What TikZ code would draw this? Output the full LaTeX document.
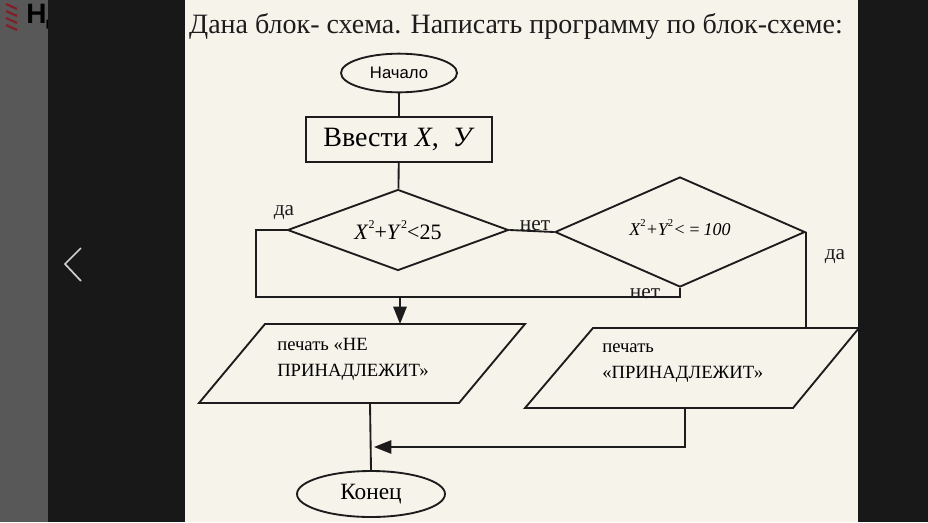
\documentclass[tikz,border=0pt]{standalone}
\usepackage{fontspec}
\setmainfont{Liberation Serif}
\newfontfamily\arialf{Liberation Sans}
\usetikzlibrary{arrows.meta,shapes.geometric}
\definecolor{paper}{RGB}{246,243,234}
\definecolor{band}{RGB}{24,24,24}
\definecolor{panel}{RGB}{88,88,88}
\definecolor{ink}{RGB}{28,28,28}
\definecolor{chev}{RGB}{205,205,205}
\definecolor{logored}{RGB}{130,30,40}
\newcommand\mysq[1]{\raisebox{0.5em}{\upshape\fontsize{#1}{#1}\selectfont 2}}
\begin{document}
\begin{tikzpicture}[x=0.75pt,y=-0.75pt,
  line/.style={draw=ink,line width=1.4pt},
  arr/.style={line,-{Triangle[length=13pt,width=10pt]}},
  lbl/.style={font=\fontsize{16}{18}\selectfont,text=ink,inner sep=0pt},
  para/.style={line,line join=miter}]
\useasboundingbox (0,0) rectangle (928,522);
% background
\fill[panel] (0,0) rectangle (48,522);
\node[anchor=west,font=\arialf\bfseries\fontsize{21}{24}\selectfont,text=black,inner sep=0pt] (logo) at (26,17) {НД};
\foreach \yy in {4,11,18,25}{\draw[logored,line width=1.6pt] (6,\yy) -- (17,\yy+5);}
\fill[band] (48,0) rectangle (185,522);
\fill[paper] (185,0) rectangle (858,522);
\fill[band] (858,0) rectangle (928,522);
\draw[chev,line width=1.3pt] (81,248) -- (65,264) -- (81,281);

% title
\node[font=\fontsize{21}{25}\selectfont,text=ink,inner sep=0pt] (title) at (516,26) {Дана блок- схема. Написать программу по блок-схеме:};

% start / input
\node[ellipse,line,minimum width=87pt,minimum height=29pt,inner sep=0pt,
      font=\arialf\fontsize{12.5}{14}\selectfont] (start) at (399,73) {\raisebox{-0.3em}{Начало}};
\node[line,rectangle,minimum width=139.5pt,minimum height=33.75pt,inner sep=0pt,
      font=\fontsize{21}{24}\selectfont] (input) at (399,139.5) {Ввести \textit{X}, \ \textit{У}};

% decisions
\node[diamond,line,aspect=2.73,minimum width=165.75pt,minimum height=60.75pt,inner sep=0pt,
      font=\fontsize{16.5}{18}\selectfont] (d1) at (398,230) {\textit{X}\mysq{9}+\textit{Y}\mysq{9}<25};
\node[diamond,line,aspect=2.27,minimum width=187.5pt,minimum height=82.5pt,inner sep=0pt,
      font=\itshape\fontsize{13.5}{16}\selectfont] (d2) at (680,232) {\raisebox{7pt}{X\mysq{8}+Y\mysq{8}<\,=\,100}};

% outputs
\draw[para] (265,324) -- (525,324) -- (459,403) -- (199,403) -- cycle;
\node[anchor=west,align=left,inner sep=0pt,font=\fontsize{14}{19.5}\selectfont] (p1) at (277,359) {печать «НЕ\\ПРИНАДЛЕЖИТ»};
\draw[para] (593,328) -- (859,328) -- (793,408) -- (525,408) -- cycle;
\node[anchor=west,align=left,inner sep=0pt,font=\fontsize{14}{19.5}\selectfont] (p2) at (602,363) {печать\\«ПРИНАДЛЕЖИТ»};

% end
\node[ellipse,line,minimum width=111pt,minimum height=34.5pt,inner sep=0pt,
      font=\fontsize{17.5}{20}\selectfont] (fin) at (371,494) {Конец};

% anchor coordinates
\coordinate (lx) at (256,297);
\coordinate (j) at (400,297);
\coordinate (p1n) at (400,324);
\coordinate (p1s) at (370,403);
\coordinate (p2n) at (806,328);
\coordinate (p2s) at (685,408);
\coordinate (mrg) at (374,447);

% connectors
\draw[line] (start) -- (input);
\draw[line] (input) -- (d1);
\draw[line] (d1.east) -- (d2.west);
\draw[line] (d1.west) -| (lx) -- (d2.south |- lx) -- (d2.south);
\draw[arr] (j) -- (p1n);
\draw[line] (d2.east) -- (d2.east |- p2n);
\draw[line] (p1s) -- (fin.north);
\draw[arr] (p2s) |- (mrg);

% labels
\node[lbl] (yes1) at (284,213) {да};
\node[lbl] (no1) at (535,226) {нет};
\node[lbl] (yes2) at (835,257) {да};
\node[lbl] (no2) at (645,294) {нет};
\end{tikzpicture}
\end{document}
